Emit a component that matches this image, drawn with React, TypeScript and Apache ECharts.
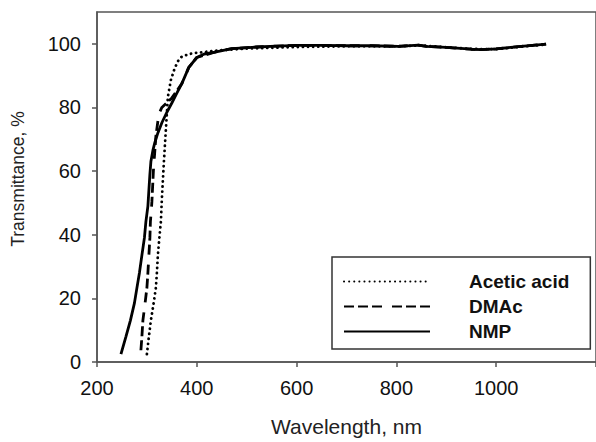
import React, { useEffect, useRef } from "react";
import * as echarts from "echarts";

const seriesNames = ["Acetic acid", "DMAc", "NMP"];

const aceticX = [300, 304, 308, 313, 318, 320, 322, 325, 328, 330, 334, 338, 342, 348, 355, 362, 370, 385, 400, 450, 500, 600, 700, 800, 850, 900, 950, 1000, 1050, 1100];
const aceticY = [2.5, 8, 13.1, 18, 23.3, 28, 33.6, 39, 44.1, 51.3, 62.8, 73, 83.3, 88.6, 92, 94.5, 96, 96.8, 97.2, 98, 98.5, 99, 99.2, 99.2, 99.5, 98.9, 98.4, 98.3, 99.1, 99.8];

const dmacX = [288, 290, 292, 296, 300, 302, 304, 306, 307, 309, 310, 313, 318, 324, 330, 340, 350, 370, 384, 400, 434, 470, 520, 560, 604, 650, 700, 750, 804, 844, 860, 900, 950, 970, 1000, 1050, 1100];
const dmacY = [3.7, 8, 13.1, 18, 23.3, 28, 33.6, 39, 44.1, 48, 50.4, 60, 71, 78, 80, 81.5, 83, 87.5, 92.6, 95.7, 97.3, 98.5, 99, 99.3, 99.5, 99.5, 99.4, 99.4, 99.2, 99.6, 99.2, 98.9, 98.3, 98.2, 98.4, 99.2, 99.9];

const nmpX = [248, 258, 267, 275, 280, 285, 290, 295, 298, 302, 304, 306, 308, 312, 316, 322, 330, 340, 350, 360, 370, 384, 400, 415, 434, 470, 520, 560, 604, 650, 700, 750, 804, 844, 860, 900, 950, 970, 1000, 1050, 1100];
const nmpY = [2.5, 8, 13.1, 18.5, 23.3, 28, 33.6, 39, 44.1, 49, 54, 59, 63, 66.5, 69, 72, 75.2, 78.5, 81.4, 84.5, 87.5, 92.6, 95.7, 96.8, 97.3, 98.5, 99, 99.3, 99.5, 99.5, 99.4, 99.4, 99.2, 99.6, 99.2, 98.9, 98.3, 98.2, 98.4, 99.2, 99.9];

const xTicks = [200, 400, 600, 800, 1000];
const yTicks = [0, 20, 40, 60, 80, 100];

const zip = (xs: number[], ys: number[]) => xs.map((x, i) => [x, ys[i]]);

export default function App() {
  const ref = useRef<HTMLDivElement>(null);
  useEffect(() => {
    if (!ref.current) return;
    const chart = echarts.init(ref.current, undefined, { renderer: "svg" });
    const font = "Liberation Sans";
    const axisColor = "#555";
    chart.setOption({
      animation: false,
      backgroundColor: "#fff",
      grid: {
        left: 97,
        top: 12,
        width: 502,
        height: 353,
        show: true,
        borderColor: axisColor,
        borderWidth: 1.5,
        containLabel: false,
      },
      legend: {
        orient: "vertical",
        left: 332,
        top: 257,
        data: seriesNames,
        itemWidth: 86,
        itemHeight: 19,
        itemGap: 6,
        borderColor: "#333",
        borderWidth: 1.5,
        padding: [15, 21, 8, 11],
        itemStyle: { opacity: 0 },
        textStyle: {
          fontFamily: font,
          fontSize: 19,
          fontWeight: "bold",
          color: "#111",
          lineHeight: 19,
          padding: [0, 0, 0, 34],
        },
      },
      xAxis: {
        type: "value",
        min: 200,
        max: 1200,
        interval: 200,
        name: "Wavelength, nm",
        nameLocation: "middle",
        nameGap: 54,
        nameTextStyle: { fontFamily: font, fontSize: 21, color: "#222" },
        axisLine: { show: true, lineStyle: { color: axisColor, width: 1.5 } },
        axisTick: { show: true, inside: false, length: 5, lineStyle: { color: axisColor, width: 1.5 } },
        axisLabel: {
          fontFamily: font,
          fontSize: 20,
          color: "#111",
          margin: 16,
          customValues: xTicks,
          formatter: (v: number) => String(v),
        },
        splitLine: { show: false },
      },
      yAxis: {
        type: "value",
        min: 0,
        max: 110,
        interval: 20,
        name: "Transmittance, %",
        nameLocation: "middle",
        nameGap: 70,
        nameTextStyle: { fontFamily: font, fontSize: 17.5, color: "#222", padding: [0, 0, 0, 16] },
        axisLine: { show: true, lineStyle: { color: axisColor, width: 1.5 } },
        axisTick: { show: true, inside: false, length: 5, lineStyle: { color: axisColor, width: 1.5 }, customValues: yTicks },
        axisLabel: {
          fontFamily: font,
          fontSize: 20,
          color: "#111",
          margin: 16,
          customValues: yTicks,
          formatter: (v: number) => String(v),
        },
        splitLine: { show: false },
      },
      series: [
        {
          name: seriesNames[0],
          type: "line",
          data: zip(aceticX, aceticY),
          symbol: "none",
          showSymbol: false,
          lineStyle: { color: "#000", width: 2.8, type: [0.1, 5], cap: "round" },
          itemStyle: { color: "#000" },
          z: 3,
        },
        {
          name: seriesNames[1],
          type: "line",
          data: zip(dmacX, dmacY),
          symbol: "none",
          showSymbol: false,
          lineStyle: { color: "#000", width: 2.8, type: [10, 4, 10, 4, 10, 10] },
          itemStyle: { color: "#000" },
          z: 4,
        },
        {
          name: seriesNames[2],
          type: "line",
          data: zip(nmpX, nmpY),
          symbol: "none",
          showSymbol: false,
          lineStyle: { color: "#000", width: 2.8, type: "solid" },
          itemStyle: { color: "#000" },
          z: 5,
        },
      ],
    });
    return () => chart.dispose();
  }, []);
  return <div ref={ref} style={{ width: 596, height: 442, position: "absolute", left: 0, top: 0 }} />;
}
